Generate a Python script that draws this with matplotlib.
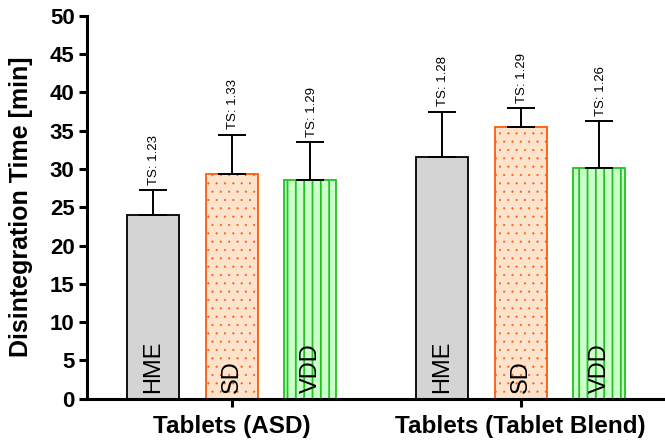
import numpy as np
import matplotlib
matplotlib.use('Agg')
import matplotlib.pyplot as plt

plt.rcParams['font.family'] = ['Liberation Sans', 'DejaVu Sans']

groups = ['Tablets (ASD)', 'Tablets (Tablet Blend)']
methods = ['HME', 'SD', 'VDD']
means = {'HME': [24.0, 31.5], 'SD': [29.4, 35.5], 'VDD': [28.5, 30.1]}
errors = {'HME': [3.2, 6.0], 'SD': [5.1, 2.4], 'VDD': [5.0, 6.1]}
ts_labels = {'HME': ['TS: 1.23', 'TS: 1.28'],
             'SD': ['TS: 1.33', 'TS: 1.29'],
             'VDD': ['TS: 1.29', 'TS: 1.26']}

styles = {'HME': dict(color='#d4d4d4', edgecolor='black', hatch=None, hlw=1.0),
          'SD': dict(color='#fde3cc', edgecolor='#ff5a0a', hatch='..', hlw=0.3),
          'VDD': dict(color='#ccffcc', edgecolor='#1fc41f', hatch='||', hlw=1.3)}

x = np.arange(len(groups))
width = 0.18
step = 0.273

fig = plt.figure(figsize=(6.65, 4.4), dpi=100)
ax = fig.add_axes([0.131, 0.094, 0.869, 0.870])

for i, m in enumerate(methods):
    pos = x + (i - 1) * step
    st = styles[m]
    with plt.rc_context({'hatch.linewidth': st['hlw']}):
        bars = ax.bar(pos, means[m], width, color=st['color'], edgecolor=st['edgecolor'],
                      hatch=st['hatch'], linewidth=1.3, zorder=2)
    ax.errorbar(pos, means[m], yerr=[np.zeros(len(pos)), errors[m]], fmt='none',
                ecolor='black', elinewidth=1.4, capsize=10, capthick=1.4, zorder=3)
    for j, rect in enumerate(bars):
        cx = rect.get_x() + rect.get_width() / 2
        ax.annotate(m, xy=(cx, 0), xytext=(0, 4), textcoords='offset points',
                    rotation=90, ha='center', va='bottom', fontsize=17)
        ax.annotate(ts_labels[m][j], xy=(cx, means[m][j] + errors[m][j]),
                    xytext=(1, 4), textcoords='offset points', rotation=90,
                    ha='center', va='bottom', fontsize=9.5)

ax.set_xlim(-0.5, 1.5)
ax.set_ylim(0, 50)
ax.set_yticks(np.arange(0, 51, 5))
ax.set_xticks(x)
ax.set_xticklabels(groups, fontsize=17.5, fontweight='bold')
for lab in ax.get_yticklabels():
    lab.set_fontsize(16)
    lab.set_fontweight('bold')
ax.set_ylabel('Disintegration Time [min]', fontsize=18, fontweight='bold', labelpad=12)

ax.spines['top'].set_visible(False)
ax.spines['right'].set_visible(False)
ax.spines['left'].set_linewidth(2.2)
ax.spines['bottom'].set_linewidth(2.2)
ax.tick_params(axis='both', direction='out', width=2.2, length=6, pad=3)
ax.tick_params(axis='x', pad=6)

fig.savefig('out.png', dpi=100)
